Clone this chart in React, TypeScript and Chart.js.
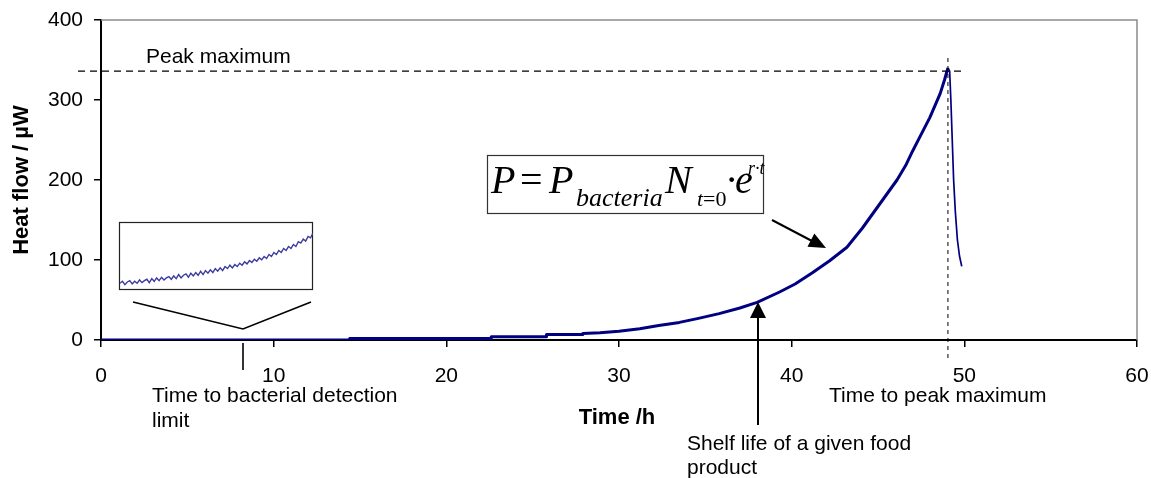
import React, { useEffect, useRef } from "react";
import { Chart, registerables } from "chart.js";

Chart.register(...registerables);

// ---- data ----
const timeH = [
  0, 14.4, 14.4, 22.6, 22.6, 25.8, 25.8, 27.9, 27.9, 28.9, 30, 31.2, 32.3, 33.5,
  34.6, 35.8, 37, 38, 39.3, 40.2, 41.2, 42.2, 43.2, 44.1, 44.6, 45.1, 45.6, 46.1,
  46.6, 47, 47.5, 48, 48.3, 48.6, 48.85, 49.05, 49.15, 49.22, 49.3, 49.38, 49.48,
  49.6, 49.72, 49.85,
];
const heatFlow = [
  0, 0, 2, 2, 4, 4, 7, 7, 8, 9, 11, 14, 18, 22,
  27, 33, 40, 47, 60, 70, 84, 99, 116, 140, 155, 170, 185, 200,
  218, 236, 257, 278, 293, 308, 325, 340, 336, 300, 250, 200, 160,
  125, 105, 92,
];
const insetValues = [
  10, 13, 8, 12, 14, 9, 13, 10, 15, 11,
  14, 16, 11, 17, 13, 18, 14, 19, 15, 18,
  20, 16, 21, 17, 23, 18, 22, 24, 19, 25,
  21, 26, 22, 28, 23, 29, 25, 30, 26, 32,
  28, 33, 29, 35, 32, 37, 33, 38, 35, 40,
  37, 42, 39, 44, 41, 46, 43, 48, 45, 50,
  47, 53, 50, 56, 53, 59, 56, 62, 59, 65,
  62, 68, 65, 72, 70, 76, 73, 80, 78, 85,
];
const xTickValues = [0, 10, 20, 30, 40, 50, 60];
const yTickValues = [0, 100, 200, 300, 400];
const peakValue = 336;
const peakTime = 49.05;

const xTitle = "Time /h";
const yTitle = "Heat flow / \u00B5W";
const peakLabel = "Peak maximum";
const detectionLabel = ["Time to bacterial detection", "limit"];
const shelfLabel = ["Shelf life of a given food", "product"];
const peakTimeLabel = "Time to peak maximum";

// ---- layout (pixels) ----
const W = 1151;
const H = 478;
const INSET = { left: 119, top: 222, width: 193, height: 67 };
const SANS = '"Liberation Sans", Arial, sans-serif';
const SERIF = '"Liberation Serif", "Times New Roman", serif';

function arrowHead(ctx: CanvasRenderingContext2D, fx: number, fy: number, tx: number, ty: number, len: number, half: number) {
  const a = Math.atan2(ty - fy, tx - fx);
  const bx = tx - Math.cos(a) * len;
  const by = ty - Math.sin(a) * len;
  ctx.beginPath();
  ctx.moveTo(tx, ty);
  ctx.lineTo(bx + Math.sin(a) * half, by - Math.cos(a) * half);
  ctx.lineTo(bx - Math.sin(a) * half, by + Math.cos(a) * half);
  ctx.closePath();
  ctx.fill();
}

const annotations = {
  id: "annotations",
  afterDraw(chart: any) {
    const { ctx, chartArea, scales } = chart;
    const xs = scales.x;
    const ys = scales.y;
    ctx.save();
    // plot frame (top & right)
    ctx.strokeStyle = "#8c8c8c";
    ctx.lineWidth = 1.5;
    ctx.beginPath();
    ctx.moveTo(chartArea.left, chartArea.top);
    ctx.lineTo(chartArea.right, chartArea.top);
    ctx.lineTo(chartArea.right, chartArea.bottom);
    ctx.stroke();

    // peak maximum dashed line
    const py = ys.getPixelForValue(peakValue);
    ctx.strokeStyle = "#000";
    ctx.lineWidth = 1.3;
    ctx.setLineDash([7, 5]);
    ctx.beginPath();
    ctx.moveTo(78, py);
    ctx.lineTo(xs.getPixelForValue(50.1), py);
    ctx.stroke();
    // time to peak dotted line
    const px = xs.getPixelForValue(peakTime);
    ctx.setLineDash([4, 4]);
    ctx.lineWidth = 1;
    ctx.beginPath();
    ctx.moveTo(px, 58);
    ctx.lineTo(px, 358);
    ctx.stroke();
    ctx.setLineDash([]);

    // inset frame
    ctx.strokeStyle = "#222";
    ctx.lineWidth = 1.2;
    ctx.strokeRect(INSET.left + 0.5, INSET.top + 0.5, INSET.width, INSET.height);

    // V lines under inset
    ctx.strokeStyle = "#000";
    ctx.lineWidth = 1.6;
    ctx.beginPath();
    ctx.moveTo(133, 302);
    ctx.lineTo(243, 329);
    ctx.lineTo(311, 302);
    ctx.stroke();
    ctx.beginPath();
    ctx.moveTo(243, 343);
    ctx.lineTo(243, 370);
    ctx.stroke();

    // arrow to curve from formula
    ctx.fillStyle = "#000";
    ctx.lineWidth = 2;
    ctx.beginPath();
    ctx.moveTo(772, 220);
    ctx.lineTo(812, 241);
    ctx.stroke();
    arrowHead(ctx, 772, 220, 826, 248, 17, 7.5);
    // shelf-life arrow
    ctx.beginPath();
    ctx.moveTo(758, 425);
    ctx.lineTo(758, 315);
    ctx.stroke();
    arrowHead(ctx, 758, 425, 758, 302, 16, 8);

    // formula box
    ctx.fillStyle = "#fff";
    ctx.fillRect(487, 155, 276, 58);
    ctx.strokeStyle = "#333";
    ctx.lineWidth = 1.2;
    ctx.strokeRect(487.5, 155.5, 276, 58);
    ctx.fillStyle = "#000";
    ctx.textBaseline = "alphabetic";
    ctx.textAlign = "left";
    ctx.font = `italic 40px ${SERIF}`;
    ctx.fillText("P", 491, 193);
    ctx.font = `40px ${SERIF}`;
    ctx.fillText("=", 520, 193);
    ctx.font = `italic 40px ${SERIF}`;
    ctx.fillText("P", 549, 193);
    ctx.font = `italic 26px ${SERIF}`;
    ctx.fillText("bacteria", 576, 206);
    ctx.font = `italic 40px ${SERIF}`;
    ctx.fillText("N", 665, 193);
    ctx.font = `italic 22px ${SERIF}`;
    ctx.fillText("t", 697, 206);
    const w = ctx.measureText("t").width;
    ctx.font = `22px ${SERIF}`;
    ctx.fillText("=0", 697 + w, 206);
    ctx.font = `40px ${SERIF}`;
    ctx.fillText("\u00B7", 725, 193);
    ctx.font = `italic 40px ${SERIF}`;
    ctx.fillText("e", 735, 193);
    ctx.font = `italic 18px ${SERIF}`;
    ctx.fillText("r\u00B7t", 748, 174);

    // texts
    ctx.font = `21px ${SANS}`;
    ctx.fillText(peakLabel, 146, 63);
    ctx.fillText(detectionLabel[0], 152, 402);
    ctx.fillText(detectionLabel[1], 152, 427);
    ctx.fillText(shelfLabel[0], 687, 450);
    ctx.fillText(shelfLabel[1], 687, 474);
    ctx.fillText(peakTimeLabel, 829, 402);

    ctx.font = `bold 22px ${SANS}`;
    ctx.textAlign = "center";
    ctx.fillText(xTitle, 617, 424);
    ctx.translate(28, 180);
    ctx.rotate(-Math.PI / 2);
    ctx.fillText(yTitle, 0, 0);
    ctx.restore();
  },
};

export default function App() {
  const mainRef = useRef<HTMLCanvasElement>(null);
  const insetRef = useRef<HTMLCanvasElement>(null);

  useEffect(() => {
    if (!mainRef.current || !insetRef.current) return;
    const points = timeH.map((t, i) => ({ x: t, y: heatFlow[i] }));
    const main = new Chart(mainRef.current, {
      type: "line",
      data: {
        datasets: [
          {
            data: points,
            borderColor: "#000080",
            borderWidth: 3,
            borderJoinStyle: "round",
            pointRadius: 0,
            tension: 0,
            fill: false,
            segment: {
              borderWidth: (c: any) => (c.p0.parsed.x >= peakTime ? 1.7 : 3),
            },
          },
        ],
      },
      options: {
        responsive: false,
        animation: false,
        events: [],
        layout: { padding: { left: 0, top: 20, right: 14, bottom: 0 } },
        plugins: { legend: { display: false }, tooltip: { enabled: false } },
        scales: {
          x: {
            type: "linear",
            min: 0,
            max: 60,
            afterBuildTicks: (s: any) => {
              s.ticks = xTickValues.map((v) => ({ value: v }));
            },
            afterFit: (s: any) => {
              s.height = 138;
              s.paddingLeft = 0;
              s.paddingRight = 0;
              s.paddingTop = 0;
              s.paddingBottom = 0;
            },
            ticks: {
              color: "#000",
              font: { family: SANS, size: 21 },
              padding: 17,
              maxRotation: 0,
            },
            grid: {
              display: true,
              drawOnChartArea: false,
              drawTicks: true,
              tickLength: 7,
              tickColor: "#000",
              lineWidth: 1.5,
            },
            border: { display: true, color: "#000", width: 2 },
          },
          y: {
            type: "linear",
            min: 0,
            max: 400,
            afterBuildTicks: (s: any) => {
              s.ticks = yTickValues.map((v) => ({ value: v }));
            },
            afterFit: (s: any) => {
              s.width = 101;
              s.paddingLeft = 0;
              s.paddingRight = 0;
              s.paddingTop = 0;
              s.paddingBottom = 0;
            },
            ticks: {
              color: "#000",
              font: { family: SANS, size: 21 },
              padding: 11,
            },
            grid: {
              display: true,
              drawOnChartArea: false,
              drawTicks: true,
              tickLength: 7,
              tickColor: "#000",
              lineWidth: 1.5,
            },
            border: { display: true, color: "#000", width: 2 },
          },
        },
      },
      plugins: [annotations],
    });

    const inset = new Chart(insetRef.current, {
      type: "line",
      data: {
        labels: insetValues.map((_, i) => i),
        datasets: [
          {
            data: insetValues,
            borderColor: "#3c3ca0",
            borderWidth: 1.4,
            pointRadius: 0,
            tension: 0,
          },
        ],
      },
      options: {
        responsive: false,
        animation: false,
        events: [],
        layout: { padding: 0 },
        plugins: { legend: { display: false }, tooltip: { enabled: false } },
        scales: {
          x: { display: false, offset: false },
          y: { display: false, min: 0, max: 100 },
        },
      },
    });

    return () => {
      main.destroy();
      inset.destroy();
    };
  }, []);

  return (
    <div style={{ position: "fixed", left: 0, top: 0, width: W, height: H, background: "#fff" }}>
      <canvas
        ref={mainRef}
        width={W}
        height={H}
        style={{ position: "absolute", left: 0, top: 0, width: W, height: H }}
      />
      <canvas
        ref={insetRef}
        width={INSET.width}
        height={INSET.height}
        style={{ position: "absolute", left: INSET.left + 1, top: INSET.top + 1, width: INSET.width, height: INSET.height }}
      />
    </div>
  );
}
